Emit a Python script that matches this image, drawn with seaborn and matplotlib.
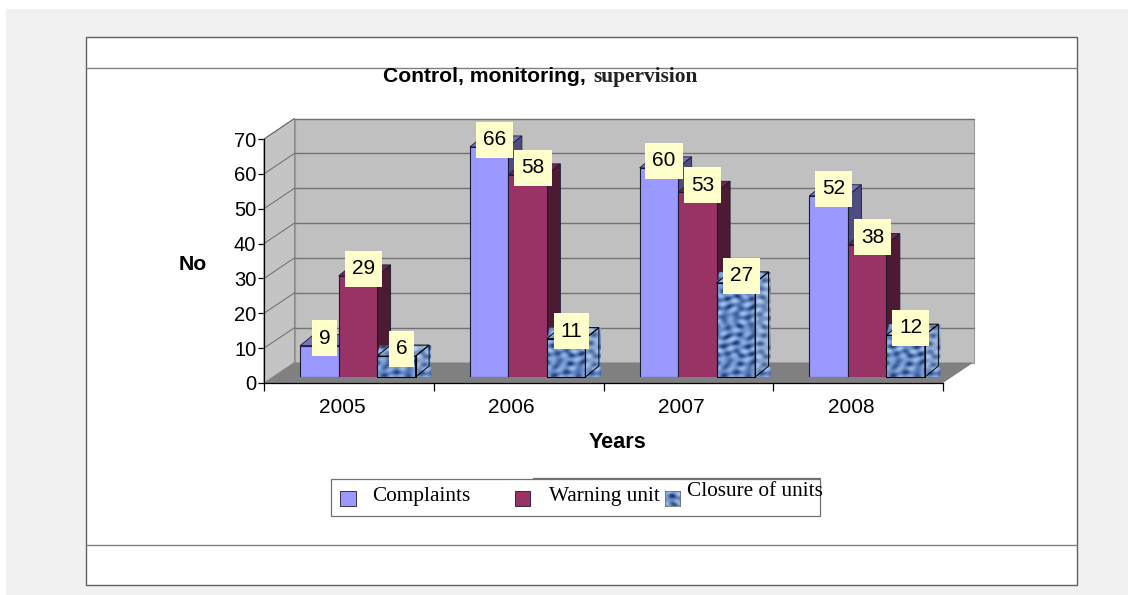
import numpy as np
import pandas as pd
import matplotlib
matplotlib.use('Agg')
import matplotlib.pyplot as plt
import seaborn as sns
from matplotlib.colors import LinearSegmentedColormap
from matplotlib.patches import Polygon, Rectangle
from matplotlib.path import Path
from matplotlib.transforms import ScaledTranslation

# data
years = ['2005', '2006', '2007', '2008']
series_names = ['Complaints', 'Warning unit', 'Closure of units']
complaints = [9, 66, 60, 52]
warning_unit = [29, 58, 53, 38]
closure_units = [6, 11, 27, 12]
y_ticks = [0, 10, 20, 30, 40, 50, 60, 70]

W, H = 1128, 595
front_colors = ['#9999FF', '#993366', '#6F95D0']
side_colors = ['#4D4D80', '#4D1A33', '#A8C0EA']
top_colors = ['#7373BF', '#732650', '#A8C0EA']
edge = '#1A1A33'

df = pd.DataFrame({
    'Year': years * 3,
    'Series': np.repeat(series_names, 4),
    'No': complaints + warning_unit + closure_units,
})

sns.set_theme(style='white')
plt.rcParams['font.family'] = ['Liberation Sans', 'DejaVu Sans']
plt.rcParams['text.color'] = 'black'

fig = plt.figure(figsize=(W / 100, H / 100), dpi=100, facecolor='white')


def px_axes(left, right, top, bottom, **kw):
    return fig.add_axes([left / W, 1 - bottom / H, (right - left) / W, (bottom - top) / H], **kw)


def label_box(x0, y0, width, height, mutation_size):
    # fixed height note box, the width follows the text
    cx, cy = x0 + width / 2, y0 + height / 2
    hw, hh = width / 2 + 7, 18
    return Path([(cx - hw, cy - hh), (cx + hw, cy - hh), (cx + hw, cy + hh), (cx - hw, cy + hh), (cx - hw, cy - hh)], closed=True)


# page background, card and outer texts, in pixel coordinates
bg = fig.add_axes([0, 0, 1, 1], zorder=0)
bg.set_xlim(0, W)
bg.set_ylim(H, 0)
bg.axis('off')
bg.add_patch(Rectangle((6, 9), W - 6, H - 9, fc='#F1F1F1', ec='none'))
bg.add_patch(Rectangle((86, 37), 991, 548, fc='white', ec='#606060', lw=1.0))
bg.plot([86, 1077], [68, 68], color='#808080', lw=1.0)
bg.plot([86, 1077], [545, 545], color='#808080', lw=1.0)

bg.text(383, 82, 'Control, monitoring,', fontsize=15.2, fontweight='bold', va='baseline')
bg.text(593, 82, 'supervision', fontsize=15.4, fontweight='bold', family='Liberation Serif', va='baseline', color='#222222')
bg.text(193, 265, 'No', fontsize=15.3, fontweight='bold', ha='center', va='center')
bg.text(617.5, 443, 'Years', fontsize=15.6, fontweight='bold', ha='center', va='center')

# legend box, made of two overlapping frames like the original
bg.add_patch(Rectangle((331, 479), 489, 37, fc='white', ec='#707070', lw=0.9))
bg.plot([533, 820], [478, 478], color='#707070', lw=0.9)
bg.add_patch(Rectangle((340, 491), 16, 15, fc=front_colors[0], ec=edge, lw=0.6))
bg.add_patch(Rectangle((515, 491), 15, 15, fc=front_colors[1], ec=edge, lw=0.6))
bg.text(372, 496, series_names[0], fontsize=15.3, family='Liberation Serif', va='center')
bg.text(549, 496, series_names[1], fontsize=15.3, family='Liberation Serif', va='center')
bg.text(687, 491, series_names[2], fontsize=15.3, family='Liberation Serif', va='center')

# axes frame: front plane of the fake 3d box
ax = px_axes(264, 943, 139, 383, zorder=1, facecolor='none')
ax.set_xlim(-0.5, 3.5)
ax.set_ylim(0, 70)
depth_x = 30.5 / (679 / 4)
depth_y = 20.5 / (244 / 70)

x0, x1 = -0.5, 3.5
ax.add_patch(Polygon([(x0 + depth_x, depth_y), (x1 + depth_x, depth_y), (x1 + depth_x, 70 + depth_y), (x0 + depth_x, 70 + depth_y)],
                     fc='#C0C0C0', ec='#9A9A9A', lw=0.8, clip_on=False, zorder=1))
ax.add_patch(Polygon([(x0, 0), (x0 + depth_x, depth_y), (x0 + depth_x, 70 + depth_y), (x0, 70)],
                     fc='#C4C4C4', ec='#8C8C8C', lw=0.8, clip_on=False, zorder=1))
ax.add_patch(Polygon([(x0, 0), (x1, 0), (x1 + depth_x, depth_y), (x0 + depth_x, depth_y)],
                     fc='#808080', ec='none', clip_on=False, zorder=2))
for t in y_ticks[1:]:
    ax.plot([x0 + depth_x, x1 + depth_x], [t + depth_y, t + depth_y], color='#737373', lw=1.0, clip_on=False, zorder=1.5)
    ax.plot([x0, x0 + depth_x], [t, t + depth_y], color='#6A6A6A', lw=0.7, clip_on=False, zorder=1.5)

ax.set_yticks(y_ticks)
ax.set_xticks(range(4))
ax.set_xticklabels(years)
ax.set_xticks(np.arange(-0.5, 4), minor=True)
ax.tick_params(axis='x', which='major', length=0, labelsize=15, pad=11, colors='black')
ax.tick_params(axis='x', which='minor', length=6, width=0.9, color='black', bottom=True)
ax.tick_params(axis='y', length=4, width=0.9, labelsize=14.5, pad=1.5, color='black', left=True, labelcolor='black')
for lab in ax.get_xticklabels():
    lab.set_transform(lab.get_transform() + ScaledTranslation(-7 / 100, 0, fig.dpi_scale_trans))
sns.despine(ax=ax, top=True, right=True)
ax.spines['left'].set_color('black')
ax.spines['bottom'].set_color('black')
ax.spines['left'].set_linewidth(0.9)
ax.spines['bottom'].set_linewidth(0.9)

# bars live in their own axes, shifted a little into the box
ax_bars = px_axes(273, 952, 133, 377, zorder=2, facecolor='none')
sns.barplot(data=df, x='Year', y='No', hue='Series', hue_order=series_names, order=years,
            palette=front_colors, saturation=1, width=0.68, gap=0, dodge=True, legend=False,
            edgecolor=edge, linewidth=0.8, err_kws={'linewidth': 0}, ax=ax_bars)
ax_bars.set_xlim(-0.5, 3.5)
ax_bars.set_ylim(0, 70)
ax_bars.axis('off')

bar_dx = 13.5 / (679 / 4)
bar_dy = 11 / (244 / 70)

# blotchy texture for the closure bars, one cell per pixel
gx, gy = np.meshgrid(np.arange(60), np.arange(130))
tex = (np.sin(gx * 0.55 + 1.4 * np.sin(gy * 0.23)) + np.sin(gy * 0.68 + 1.2 * np.sin(gx * 0.29))
       + 0.7 * np.sin(gx * 0.23 - gy * 0.83))
tex_cmap = LinearSegmentedColormap.from_list('tex', ['#1A386B', '#4B70AC', '#7C9FD6', '#A9C4EE'])

for i, container in enumerate(ax_bars.containers):
    for patch in container:
        x, w, h = patch.get_x(), patch.get_width(), patch.get_height()
        patch.set_zorder(11 + 2 * i)
        top = [(x, h), (x + bar_dx, h + bar_dy), (x + w + bar_dx, h + bar_dy), (x + w, h)]
        side = [(x + w, 0), (x + w + bar_dx, bar_dy), (x + w + bar_dx, h + bar_dy), (x + w, h)]
        z = 10 + 2 * i
        if i < 2:
            ax_bars.add_patch(Polygon(top, fc=top_colors[i], ec=edge, lw=0.6, clip_on=False, zorder=z))
            ax_bars.add_patch(Polygon(side, fc=side_colors[i], ec=edge, lw=0.6, clip_on=False, zorder=z))
        else:
            patch.set_visible(False)
            box_x1 = x + w + bar_dx * 1.15
            box_y1 = h + bar_dy
            rows = int((box_y1 + 1) * 244 / 70)
            img = ax_bars.imshow(tex[:rows, :52], cmap=tex_cmap, extent=(x, box_x1, -1, box_y1), aspect='auto',
                                 origin='lower', interpolation='bilinear', zorder=z, clip_on=True)
            clip = Polygon([(x, -1), (box_x1, -1), (box_x1, box_y1), (x + bar_dx * 0.2, box_y1), (x, h)],
                           transform=ax_bars.transData)
            img.set_clip_path(clip)
            ax_bars.add_patch(Polygon(top, fc='white', alpha=0.25, ec='none', clip_on=False, zorder=z + 0.5))
            ax_bars.add_patch(Polygon(side, fc='white', alpha=0.18, ec='none', clip_on=False, zorder=z + 0.5))
            ax_bars.add_patch(Polygon(top, fc='none', ec='black', lw=0.7, clip_on=False, zorder=z + 1))
            ax_bars.add_patch(Polygon(side, fc='none', ec='black', lw=0.7, clip_on=False, zorder=z + 1))
            ax_bars.add_patch(Rectangle((x, 0), w, h, fc='none', ec='black', lw=0.8, clip_on=False, zorder=z + 1))
        # pale yellow value label
        ax_bars.annotate(f'{int(h)}', (x + w / 2, h), xytext=(3.8, 5.2), textcoords='offset points',
                         ha='center', va='center', fontsize=15, color='black', zorder=30, annotation_clip=False,
                         bbox=dict(boxstyle=label_box, fc='#FFFFCC', ec='none'))
ax_bars.set_xlim(-0.5, 3.5)
ax_bars.set_ylim(0, 70)

# small textured swatch of the legend
sw = px_axes(665, 680, 491, 506, zorder=3)
sw.imshow(tex[:15, :15], cmap=tex_cmap, aspect='auto', interpolation='bilinear')
sw.set_xticks([])
sw.set_yticks([])
for s in sw.spines.values():
    s.set_color('#707070')
    s.set_linewidth(0.6)

fig.savefig('out.png', dpi=100)
